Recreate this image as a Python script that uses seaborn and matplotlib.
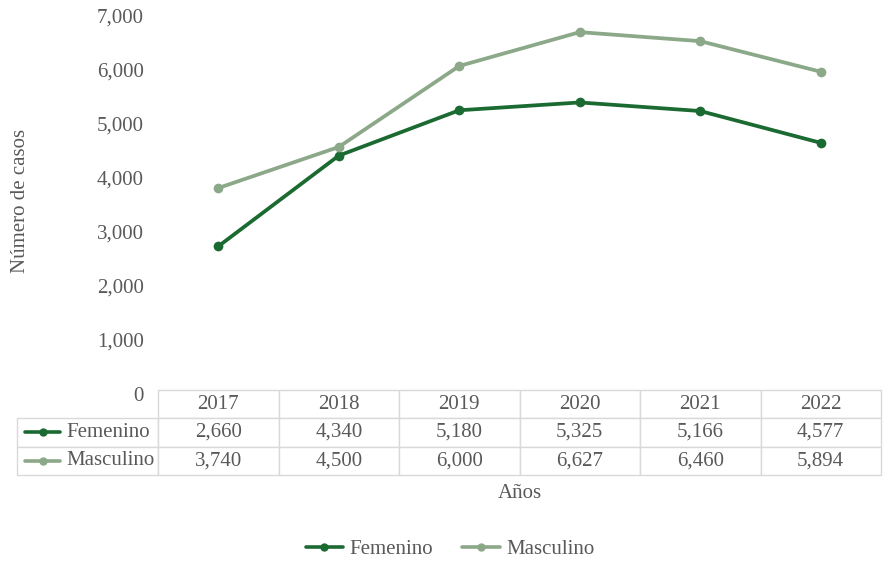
import pandas as pd
import matplotlib.pyplot as plt
import seaborn as sns
from matplotlib.lines import Line2D
from matplotlib.ticker import FuncFormatter
from matplotlib.transforms import ScaledTranslation

# datos del grafico
years = ["2017", "2018", "2019", "2020", "2021", "2022"]
femenino = [2660, 4340, 5180, 5325, 5166, 4577]
masculino = [3740, 4500, 6000, 6627, 6460, 5894]
series = ["Femenino", "Masculino"]
colors = {"Femenino": "#1b6a31", "Masculino": "#8ba888"}
text_color = "#595959"
grid_color = "#d9d9d9"
fs = 15

sns.set_style("white")
plt.rcParams["font.family"] = ["Liberation Serif", "DejaVu Serif"]

df = pd.DataFrame({
    "idx": list(range(len(years))) * 2,
    "anio": years * 2,
    "casos": femenino + masculino,
    "sexo": ["Femenino"] * len(years) + ["Masculino"] * len(years),
})

W, H = 884, 561
fig = plt.figure(figsize=(W / 100, H / 100), dpi=100)
ax = fig.add_axes([158 / W, 1 - 390 / H, (881 - 158) / W, (390 - 12) / H])

sns.lineplot(data=df, x="idx", y="casos", hue="sexo", palette=colors,
             marker="o", markersize=7, markeredgewidth=0, linewidth=2.7,
             legend=False, ax=ax)

ax.set_xlim(-0.5, len(years) - 0.5)
ax.set_ylim(0, 7000)
ax.set_yticks(range(0, 7001, 1000))
ax.yaxis.set_major_formatter(FuncFormatter(lambda v, p: f"{int(v):,}"))
ax.tick_params(axis="y", length=0, pad=10, labelsize=fs, labelcolor=text_color)
shift = ScaledTranslation(0, -4 / 100, fig.dpi_scale_trans)
for lab in ax.get_yticklabels():
    lab.set_transform(lab.get_transform() + shift)
ax.set_xticks([])
ax.set_xlabel("")
ax.set_ylabel("Número de casos", fontsize=fs, color=text_color)
ax.yaxis.set_label_coords((30 - 158) / (881 - 158), 0.5)
for s in ax.spines.values():
    s.set_visible(False)

# tabla de datos
cell_text = [[series[0]] + [f"{v:,}" for v in femenino],
             [series[1]] + [f"{v:,}" for v in masculino]]
label_w = 158 - 17
col_w = (881 - 158) / len(years)
tot_w = label_w + col_w * len(years)
x0 = (17 - 158) / (881 - 158)
tab_h = (475 - 390) / (390 - 12)
tab = ax.table(cellText=cell_text, colLabels=[""] + years, cellLoc="center",
               colWidths=[label_w / tot_w] + [col_w / tot_w] * len(years),
               bbox=[x0, -tab_h, 1 - x0, tab_h])
tab.auto_set_font_size(False)
tab.set_fontsize(fs)
for (r, c), cell in tab.get_celld().items():
    cell.set_edgecolor(grid_color)
    cell.set_linewidth(1.0)
    cell.get_text().set_color(text_color)
    if r == 0 and c == 0:
        cell.visible_edges = ""
    elif c == 0:
        cell.get_text().set_horizontalalignment("left")
        cell.PAD = 0.35

# marcas de serie dentro de la tabla
row_y = [1 - (417 + 446) / 2 / H, 1 - (446 + 475) / 2 / H]
for name, y in zip(series, row_y):
    fig.add_artist(Line2D([25 / W, 60 / W], [y, y], color=colors[name], lw=2.6))
    fig.add_artist(Line2D([42.5 / W], [y], color=colors[name], marker="o",
                          markersize=6, markeredgewidth=0))

ax.text(0.5, -(494 - 390) / (390 - 12), "Años", transform=ax.transAxes,
        ha="center", va="center", fontsize=fs, color=text_color)

handles = [Line2D([], [], color=colors[n], lw=2.6, marker="o", markersize=6,
                  markeredgewidth=0) for n in series]
fig.legend(handles, series, loc="center", bbox_to_anchor=(450 / W, 1 - 549 / H),
           ncol=2, frameon=False, fontsize=fs, labelcolor=text_color,
           handlelength=1.8, handletextpad=0.3, columnspacing=1.4, numpoints=1)

fig.savefig("out.png", dpi=100)
